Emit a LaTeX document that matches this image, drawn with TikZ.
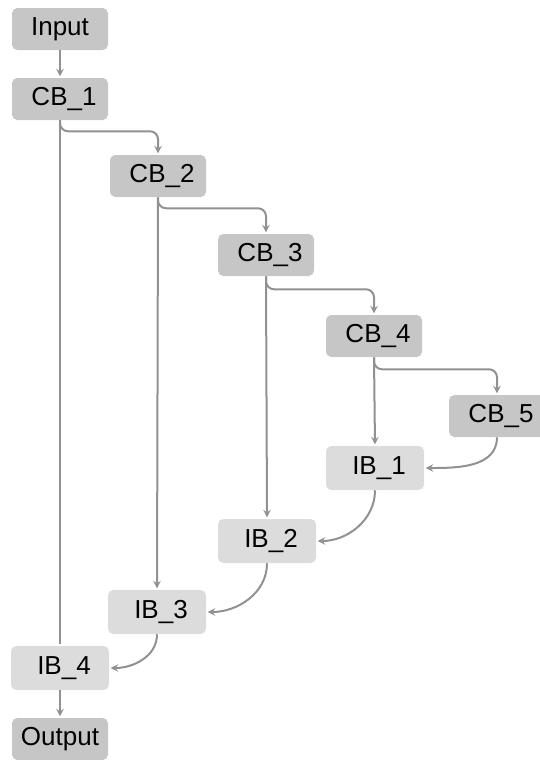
\documentclass[tikz,border=0pt]{standalone}
\usepackage{fontspec}
\setmainfont{Liberation Sans}
\usetikzlibrary{arrows}

\definecolor{cbgray}{RGB}{198,198,198}
\definecolor{ibgray}{RGB}{220,220,220}
\definecolor{linegray}{RGB}{145,145,145}

\begin{document}
\begin{tikzpicture}[
            x = 0.75pt, y = 0.75pt, % one unit = one pixel of the sketch
            > = stealth, % arrow head style
            shorten > = 1pt, % don't touch arrow head to node
            font = \fontsize{19.5}{22}\selectfont
        ]

        \tikzstyle{block}=[
            rectangle,
            rounded corners = 4pt,
            minimum width = 72pt,
            minimum height = 31.5pt,
            inner sep = 0pt,
            text = black
        ]
        \tikzstyle{cblock}=[block, fill = cbgray]
        \tikzstyle{iblock}=[block, fill = ibgray, minimum width = 73.5pt, minimum height = 33pt]
        \tikzstyle{link}=[draw = linegray, line width = 1.5pt]

        \useasboundingbox (0,0) rectangle (539,-760);

        \node[cblock] (input) at (60,-29) {Input};
        \node[cblock] (cb1) at (60,-99) {\hspace*{6pt}CB\_1};
        \node[cblock] (cb2) at (158,-176) {\hspace*{6pt}CB\_2};
        \node[cblock] (cb3) at (266,-255) {\hspace*{6pt}CB\_3};
        \node[cblock] (cb4) at (374,-336) {\hspace*{6pt}CB\_4};
        \node[cblock] (cb5) at (497,-416) {\hspace*{6pt}CB\_5};
        \node[iblock] (ib1) at (375,-468) {\hspace*{6pt}IB\_1};
        \node[iblock] (ib2) at (267,-541) {\hspace*{6pt}IB\_2};
        \node[iblock] (ib3) at (157,-612) {\hspace*{6pt}IB\_3};
        \node[iblock] (ib4) at (60,-668) {\hspace*{6pt}IB\_4};
        \node[cblock] (output) at (60,-739) {Output};

        \draw[link, ->] (input) -- (cb1);
        \draw[link, ->, rounded corners = 6pt] (cb1.south) -- ++(0,-11) -| (cb2.north);
        \draw[link, ->, rounded corners = 6pt] (cb2.south) -- ++(0,-11) -| (cb3.north);
        \draw[link, ->, rounded corners = 6pt] (cb3.south) -- ++(0,-13) -| (cb4.north);
        \draw[link, ->, rounded corners = 6pt] (cb4.south) -- ++(0,-12) -| (cb5.north);

        \draw[link] (cb1.south) -- (ib4.north);
        \draw[link, ->] (cb2.south) -- (ib3.north);
        \draw[link, ->] (cb3.south) -- (ib2.north);
        \draw[link, ->] (cb4.south) -- (ib1.north);

        \draw[link, ->] (cb5.south) to[out=-90, in=0] (ib1.east);
        \draw[link, ->] (ib1.south) to[out=-90, in=0] (ib2.east);
        \draw[link, ->] (ib2.south) to[out=-90, in=0] (ib3.east);
        \draw[link, ->] (ib3.south) to[out=-90, in=0] (ib4.east);
        \draw[link, ->] (ib4) -- (output);

    \end{tikzpicture}
\end{document}
